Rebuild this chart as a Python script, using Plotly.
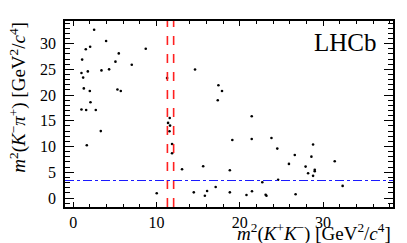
import plotly.graph_objects as go

# Data (m^2(K+K-), m^2(K-pi+)) in GeV^2/c^4
m2_kk = [2.5, 3.94, 2.02, 1.5, 8.7, 5.46, 1.06, 5.06, 7.02, 3.38, 4.3, 1.74, 0.98,
         11.26, 1.18, 1.26, 1.98, 5.3, 5.7, 2.06, 0.98, 1.54, 2.7,
         11.58, 11.38, 11.62, 3.3, 11.55, 1.62, 11.86, 11.86, 10.02,
         14.62, 17.43, 17.86, 17.35, 21.43,
         19.1, 21.43, 23.8, 24.5, 13.06, 15.6, 18.8, 22.7, 24.6, 14.47, 16.07,
         15.8, 17.1, 18.8, 20.8, 21.46, 23.1, 23.2,
         28.8, 26.6, 28.6, 25.9, 31.4, 27.9, 29.0, 29.0, 28.2, 28.8, 32.35, 26.7]
m2_kpi = [32.7, 30.5, 29.4, 28.9, 29.0, 28.1, 26.9, 26.5, 25.9, 24.8, 25.0, 24.6, 24.3,
          23.3, 23.4, 21.3, 20.8, 21.1, 20.8, 18.6, 17.2, 17.1, 17.1,
          15.56, 14.6, 14.07, 13.0, 12.98, 10.25, 10.5, 8.7, 0.91,
          24.96, 21.9, 20.8, 19.0, 15.9,
          11.28, 11.47, 11.67, 9.6, 5.58, 6.17, 5.39, 3.05, 3.56, 1.1, 1.36,
          0.45, 2.14, 1.1, 0.58, 1.3, 0.64, 0.45,
          10.4, 8.37, 8.04, 6.63, 7.13, 6.1, 5.5, 5.2, 4.8, 4.3, 2.35, 0.72]

veto_lo, veto_hi = 11.3, 12.05   # red dashed lines
horiz_cut = 3.4                  # blue dash-dot line

x_range = [-1, 38.4]
y_range = [-1.75, 34.4]

font = "Liberation Serif, Times New Roman, serif"

fig = go.Figure()
fig.add_trace(go.Scatter(x=m2_kk, y=m2_kpi, mode="markers",
                         marker=dict(color="black", size=2.6, symbol="circle"),
                         showlegend=False))

for xv in (veto_lo, veto_hi):
    fig.add_shape(type="line", xref="x", yref="paper", x0=xv, x1=xv, y0=0, y1=1,
                  line=dict(color="#ff2020", width=1.6, dash="dash"))
fig.add_shape(type="line", xref="paper", yref="y", x0=0, x1=1, y0=horiz_cut, y1=horiz_cut,
              line=dict(color="#1a1aff", width=1, dash="dashdot"))

axis_common = dict(showgrid=False, zeroline=False, showline=True, linecolor="black",
                   linewidth=1.5, mirror="ticks", ticks="inside", tickcolor="black",
                   tickfont=dict(family=font, size=16, color="black"))

fig.update_xaxes(range=x_range, dtick=10, tick0=0, ticklen=5, tickwidth=1,
                 minor=dict(dtick=2, tick0=0, ticks="inside", ticklen=3, tickcolor="black", tickwidth=1),
                 **axis_common)
fig.update_yaxes(range=y_range, dtick=5, tick0=0, ticklen=9, tickwidth=1, ticklabelstandoff=4,
                 minor=dict(dtick=1, tick0=0, ticks="inside", ticklen=5, tickcolor="black", tickwidth=1),
                 **axis_common)

fig.add_annotation(xref="paper", yref="paper", x=1.0, y=-0.135, xanchor="right", yanchor="middle",
                   showarrow=False,
                   text="<i>m</i><sup>2</sup>(<i>K</i><sup>+</sup><i>K</i><sup>−</sup>) [GeV<sup>2</sup>/<i>c</i><sup>4</sup>]",
                   font=dict(family=font, size=19, color="black"))
fig.add_annotation(xref="paper", yref="paper", x=-0.143, y=1.005, xanchor="center", yanchor="top",
                   showarrow=False, textangle=-90,
                   text="<i>m</i><sup>2</sup>(<i>K</i><sup>−</sup><i>π</i><sup>+</sup>) [GeV<sup>2</sup>/<i>c</i><sup>4</sup>]",
                   font=dict(family=font, size=19, color="black"))
fig.add_annotation(xref="paper", yref="paper", x=0.957, y=0.882, xanchor="right", yanchor="middle",
                   showarrow=False, text="LHCb",
                   font=dict(family=font, size=25, color="black"))

fig.update_layout(width=407, height=243, margin=dict(l=57, r=22, t=13, b=44),
                  plot_bgcolor="white", paper_bgcolor="white")

fig.write_html("out.html")
